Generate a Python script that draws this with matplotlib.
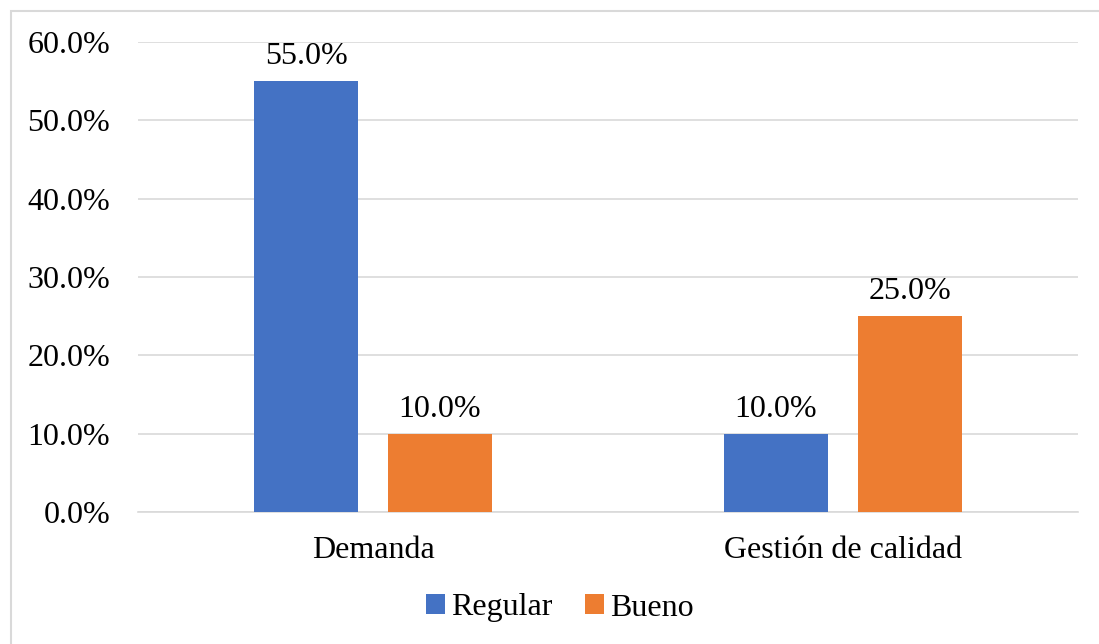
import matplotlib
matplotlib.use("Agg")
import matplotlib.pyplot as plt
import numpy as np
from matplotlib.patches import Rectangle

categories = ["Demanda", "Gestión de calidad"]
series_names = ["Regular", "Bueno"]
regular = [55.0, 10.0]
bueno = [10.0, 25.0]
yticks = [0, 10, 20, 30, 40, 50, 60]

colors = ["#4472C4", "#ED7D31"]

plt.rcParams['font.family'] = ['Liberation Serif', 'DejaVu Serif']

W, H = 1099, 644
FS = 23
fig = plt.figure(figsize=(W/100, H/100), dpi=100)
ax = fig.add_axes([138/W, 1-512/H, 940/W, 470/H])

x = np.arange(len(categories))
bw = 0.223
off = 0.1425
b1 = ax.bar(x - off, regular, bw, color=colors[0], label=series_names[0], zorder=3)
b2 = ax.bar(x + off, bueno, bw, color=colors[1], label=series_names[1], zorder=3)

for bars, vals in ((b1, regular), (b2, bueno)):
    for r, v in zip(bars, vals):
        ax.annotate(f"{v:.1f}%", (r.get_x()+r.get_width()/2, v), xytext=(0, 7),
                    textcoords="offset points", ha="center", va="bottom", fontsize=FS)

ax.set_xlim(-0.5, 1.5)
ax.set_ylim(0, 60)
ax.set_yticks(yticks)
ax.set_yticklabels([f"{t:.1f}%" for t in yticks], fontsize=FS)
ax.set_xticks(x)
ax.set_xticklabels(categories, fontsize=FS)
ax.tick_params(axis='x', length=0, pad=17)
ax.tick_params(axis='y', length=0, pad=20)
ax.grid(axis='y', color='#d9d9d9', linewidth=1.2, zorder=0)
for s in ['top', 'right', 'left']:
    ax.spines[s].set_visible(False)
ax.spines['bottom'].set_color('#d9d9d9')
ax.spines['bottom'].set_linewidth(1.2)

fig.legend(loc='center', bbox_to_anchor=(560/W, 1-608/H), ncol=2, frameon=False,
           fontsize=FS, handlelength=0.6, handleheight=0.6, handletextpad=0.2,
           columnspacing=1.0)

fig.patches.append(Rectangle((11/W, -0.05), 1.1, 1-11/H+0.05, transform=fig.transFigure,
                             fill=False, edgecolor='#d9d9d9', linewidth=1.5))

fig.savefig("out.png", dpi=100)
